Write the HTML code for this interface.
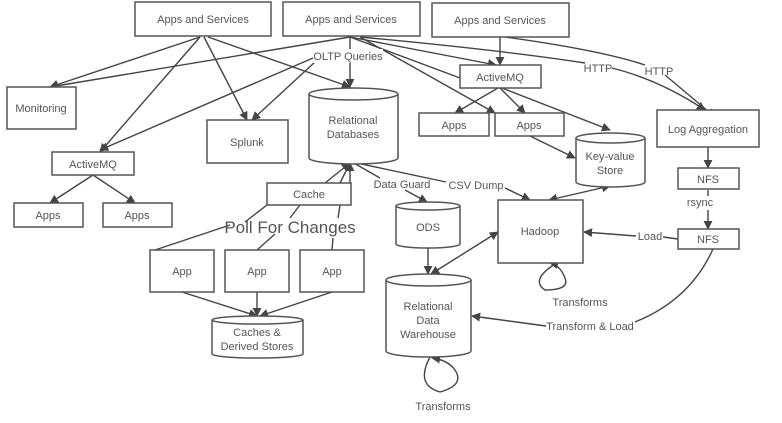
<!DOCTYPE html>
<html><head><style>
html,body{margin:0;padding:0;background:#fff;}
svg{display:block;}
text{font-family:"Liberation Sans",sans-serif;font-size:11px;fill:#555;text-anchor:middle;}
.b{fill:#fff;stroke:#555;stroke-width:1.5;}
.l{fill:none;stroke:#444;stroke-width:1.4;}
.bg{fill:#fff;}
</style></head><body>
<svg width="782" height="423" viewBox="0 0 782 423" xmlns="http://www.w3.org/2000/svg">
<defs>
<marker id="a" viewBox="0 0 10 10" refX="9" refY="5" markerWidth="9" markerHeight="9" markerUnits="userSpaceOnUse" orient="auto"><path d="M0,0 L10,5 L0,10 z" fill="#444"/></marker>
<marker id="s" viewBox="0 0 10 10" refX="1" refY="5" markerWidth="9" markerHeight="9" markerUnits="userSpaceOnUse" orient="auto"><path d="M10,0 L0,5 L10,10 z" fill="#444"/></marker>
</defs>
<!-- edges -->
<g class="l" marker-end="url(#a)">
<path d="M200,37 L50,87"/>
<path d="M200,37 L100,152"/>
<path d="M204,37 L247,120"/>
<path d="M208,37 L350,87"/>
<path d="M350,37 L50,87"/>
<path d="M320,55 L100,150"/>
<path d="M315,62 L252,120"/>
<path d="M350,37 L350,87"/>
<path d="M350,37 L496,65"/>
<path d="M350,37 L460,78" marker-end="none"/>
<path d="M360,37 L495,113"/>
<path d="M360,37 Q500,50 585,63 M612,68 Q660,80 705,110"/>
<path d="M500,37 L500,65"/>
<path d="M505,37 Q600,50 645,65 M665,75 L715,117"/>
<path d="M498,88 L455,113"/>
<path d="M500,88 L525,113"/>
<path d="M502,88 L610,130"/>
<path d="M530,136 L575,158"/>
<path d="M93,175 L50,203"/>
<path d="M93,175 L135,203"/>
<path d="M325,183 L350,163"/>
<path d="M340,183 L350,163"/>
<path d="M350,183 L350,163"/>
<path d="M182,292 L257,316"/>
<path d="M257,292 L257,316"/>
<path d="M332,292 L260,316"/>
<path d="M352,162 L380,178 M405,190 L427,202"/>
<path d="M352,162 L446,182 M505,188 L530,200"/>
<path d="M549,200 L610,186" marker-start="url(#s)"/>
<path d="M428,247 L428,274"/>
<path d="M431,274 L498,232" marker-start="url(#s)"/>
<path d="M678,239 L663,237 M636,236 L584,232"/>
<path d="M708,147 L708,168"/>
<path d="M708,190 L708,196 M708,210 L708,229"/>
<path d="M713,249 Q690,300 635,322 M546,326 L472,316"/>
<path d="M555,264 Q530,280 545,290 Q570,290 565,278 Q560,265 550,263"/>
<path d="M430,357 Q415,385 440,392 Q465,385 455,370 Q448,360 432,358"/>
</g>
<g class="l">
<path d="M155,250 L230,225 M245,222 L267,205"/>
<path d="M257,250 L275,234 M290,218 L300,205"/>
<path d="M332,250 L333,238 M338,218 L340,205"/>
<path d="M180,255 Z"/>
</g>
<!-- boxes -->
<rect class="b" x="135" y="2" width="136" height="34"/><text x="203" y="23">Apps and Services</text>
<rect class="b" x="283" y="2" width="137" height="34"/><text x="351" y="23">Apps and Services</text>
<rect class="b" x="432" y="3" width="137" height="34"/><text x="500" y="24">Apps and Services</text>
<rect class="b" x="7" y="87" width="69" height="42"/><text x="41" y="112">Monitoring</text>
<rect class="b" x="207" y="120" width="81" height="43"/><text x="247" y="146">Splunk</text>
<rect class="b" x="52" y="152" width="82" height="23"/><text x="93" y="168">ActiveMQ</text>
<rect class="b" x="14" y="203" width="69" height="24"/><text x="48" y="219">Apps</text>
<rect class="b" x="103" y="203" width="69" height="24"/><text x="137" y="219">Apps</text>
<rect class="b" x="460" y="65" width="81" height="23"/><text x="500" y="81">ActiveMQ</text>
<rect class="b" x="419" y="113" width="70" height="23"/><text x="454" y="129">Apps</text>
<rect class="b" x="495" y="113" width="69" height="23"/><text x="529" y="129">Apps</text>
<rect class="b" x="657" y="110" width="102" height="37"/><text x="708" y="133">Log Aggregation</text>
<rect class="b" x="678" y="168" width="61" height="21"/><text x="708" y="183">NFS</text>
<rect class="b" x="678" y="229" width="61" height="20"/><text x="708" y="243">NFS</text>
<rect class="b" x="267" y="183" width="84" height="22"/><text x="309" y="198">Cache</text>
<rect class="b" x="150" y="250" width="64" height="42"/><text x="182" y="275">App</text>
<rect class="b" x="225" y="250" width="64" height="42"/><text x="257" y="275">App</text>
<rect class="b" x="300" y="250" width="64" height="42"/><text x="332" y="275">App</text>
<rect class="b" x="498" y="200" width="85" height="63"/><text x="540" y="235">Hadoop</text>
<!-- cylinders -->
<path class="b" d="M309,94 L309,158 A44.5,6 0 0 0 398,158 L398,94"/><ellipse class="b" cx="353.5" cy="94" rx="44.5" ry="6"/>
<text x="353" y="124">Relational</text><text x="353" y="138">Databases</text>
<path class="b" d="M576,138 L576,182 A34.5,5 0 0 0 645,182 L645,138"/><ellipse class="b" cx="610.5" cy="138" rx="34.5" ry="5"/>
<text x="610" y="160">Key-value</text><text x="610" y="174">Store</text>
<path class="b" d="M212,320 L212,354 A45.5,4 0 0 0 303,354 L303,320"/><ellipse class="b" cx="257.5" cy="320" rx="45.5" ry="4"/>
<text x="257" y="336">Caches &amp;</text><text x="257" y="350">Derived Stores</text>
<path class="b" d="M396,206 L396,244 A32,4 0 0 0 460,244 L460,206"/><ellipse class="b" cx="428" cy="206" rx="32" ry="4"/>
<text x="428" y="231">ODS</text>
<path class="b" d="M386,280 L386,351 A42.5,6 0 0 0 471,351 L471,280"/><ellipse class="b" cx="428.5" cy="280" rx="42.5" ry="6"/>
<text x="428" y="310">Relational</text><text x="428" y="324">Data</text><text x="428" y="338">Warehouse</text>
<!-- labels -->
<rect class="bg" x="313" y="49" width="70" height="14"/><text x="348" y="60">OLTP Queries</text>
<text x="598" y="72">HTTP</text>
<text x="659" y="75">HTTP</text>
<text x="402" y="188">Data Guard</text>
<text x="476" y="189">CSV Dump</text>
<text x="700" y="206">rsync</text>
<text x="650" y="240">Load</text>
<text x="590" y="330">Transform &amp; Load</text>
<text x="580" y="306">Transforms</text>
<text x="443" y="410">Transforms</text>
<text x="290" y="233" style="font-size:17px">Poll For Changes</text>
</svg>
</body></html>
